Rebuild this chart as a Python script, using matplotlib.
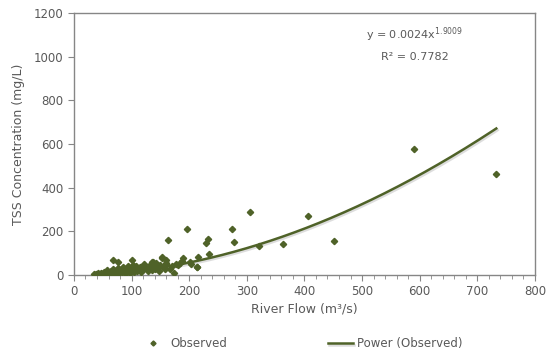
import numpy as np
import matplotlib.pyplot as plt
import matplotlib.patheffects as pe
from matplotlib.ticker import MultipleLocator

# donnees
flow = [35, 38, 40, 42, 45, 47, 48, 50, 52, 53, 55, 57, 58, 60, 62, 63, 65, 67, 68, 70,
        72, 73, 75, 77, 78, 80, 82, 83, 85, 87, 88, 90, 92, 93, 95, 97, 98, 100, 102, 104,
        105, 107, 110, 112, 115, 117, 120, 122, 125, 128, 130, 133, 135, 138, 140, 143, 145, 148, 150, 155,
        158, 160,
        68, 77, 101, 108, 122, 136, 137, 152, 153, 159, 160, 163, 167, 170, 173, 177, 181, 184, 187, 190,
        197, 202, 203, 213, 214, 216, 229, 232, 235, 275, 278, 305, 321, 363, 407, 452, 590, 733]
tss = [3, 5, 2, 8, 4, 10, 6, 3, 12, 7, 15, 5, 22, 9, 4, 13, 18, 8, 25, 11,
       6, 20, 14, 30, 9, 17, 24, 12, 35, 19, 8, 27, 15, 40, 22, 10, 30, 18, 45, 25,
       13, 33, 20, 28, 38, 15, 25, 42, 30, 18, 35, 48, 22, 40, 28, 55, 32, 20, 45, 38,
       25, 50,
       69, 61, 69, 41, 50, 61, 61, 79, 81, 54, 69, 160, 26, 41, 8, 50, 46, 55, 65, 76,
       209, 58, 50, 35, 38, 84, 145, 163, 96, 209, 151, 290, 134, 142, 270, 154, 577, 461]

# courbe de tendance puissance (Excel)
a_fit = 0.0024
b_fit = 1.9009

green = '#4F6228'
grey = '#595959'

plt.rcParams['font.family'] = 'DejaVu Sans'
plt.rcParams['mathtext.default'] = 'regular'

fig = plt.figure(figsize=(5.5, 3.58), dpi=100)
ax = fig.add_axes([0.1345, 0.232, 0.838, 0.732])

ax.plot(flow, tss, 'D', color=green, ms=3.2, mec=green, label='Observed', zorder=3)

xf = np.linspace(min(flow), max(flow), 300)
ax.plot(xf, a_fit * xf ** b_fit, color=green, lw=1.8, label='Power (Observed)', zorder=2,
        path_effects=[pe.SimpleLineShadow(offset=(1, -1.2), shadow_color='#a0a0a0', alpha=0.35), pe.Normal()])

ax.set_xlim(0, 800)
ax.set_ylim(0, 1200)
ax.xaxis.set_major_locator(MultipleLocator(100))
ax.xaxis.set_minor_locator(MultipleLocator(20))
ax.yaxis.set_major_locator(MultipleLocator(200))

for s in ax.spines.values():
    s.set_color('#868686')
    s.set_linewidth(1.0)
ax.tick_params(which='both', colors='#868686', labelcolor=grey, labelsize=8.5, direction='out')
ax.tick_params(which='major', length=4)
ax.tick_params(which='minor', length=3)

ax.set_xlabel('River Flow (m³/s)', fontsize=9, color=grey, labelpad=3)
ax.set_ylabel('TSS Concentration (mg/L)', fontsize=9, color=grey, labelpad=6)

ax.text(0.74, 0.916, r'y = 0.0024x$^{1.9009}$', transform=ax.transAxes, fontsize=8, color=grey,
        ha='center', va='center')
ax.text(0.74, 0.832, 'R² = 0.7782', transform=ax.transAxes, fontsize=8, color=grey,
        ha='center', va='center')

fig.legend(loc='center', bbox_to_anchor=(0.549, 0.04), ncol=2, frameon=False, fontsize=8.5,
           labelcolor=grey, columnspacing=8.5, handlelength=2.1, handletextpad=0.4, markerscale=0.8)

fig.savefig('out.png', dpi=100)
